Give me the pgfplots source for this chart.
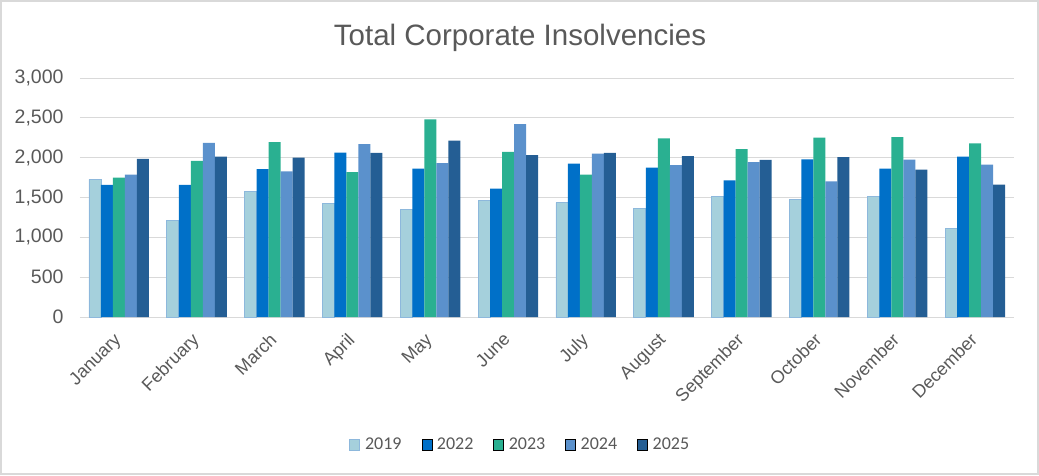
\documentclass[border=0pt]{standalone}
\usepackage{pgfplots}
\pgfplotsset{compat=1.18}
\usepackage{pgfplotstable}
\usepackage{fontspec}
\setmainfont{Liberation Sans}
\newfontfamily\legfont{Carlito}
\definecolor{c19}{HTML}{A5D0DC}
\definecolor{c19b}{HTML}{8DB8DC}
\definecolor{c22}{HTML}{0070C8}
\definecolor{c23}{HTML}{2AB091}
\definecolor{c24}{HTML}{5B91CC}
\definecolor{c25}{HTML}{245E94}
\definecolor{txt}{HTML}{595959}
\definecolor{gridc}{HTML}{D9D9D9}
\pgfplotstableread{
x y
0 1729
1 1213
2 1578
3 1427
4 1351
5 1464
6 1435
7 1368
8 1510
9 1477
10 1510
11 1116
}\tA
\pgfplotstableread{
x y
0 1657
1 1657
2 1855
3 2064
4 1863
5 1611
6 1926
7 1876
8 1716
9 1980
10 1863
11 2014
}\tB
\pgfplotstableread{
x y
0 1750
1 1959
2 2194
3 1817
4 2480
5 2073
6 1787
7 2241
8 2106
9 2253
10 2257
11 2178
}\tC
\pgfplotstableread{
x y
0 1787
1 2186
2 1829
3 2169
4 1930
5 2421
6 2052
7 1905
8 1943
9 1703
10 1976
11 1913
}\tD
\pgfplotstableread{
x y
0 1985
1 2014
2 2001
3 2060
4 2215
5 2031
6 2060
7 2018
8 1972
9 2006
10 1850
11 1662
}\tE
\begin{document}
\begin{tikzpicture}[x=1pt,y=1pt]
\useasboundingbox (0,0) rectangle (1039,475);
\draw[gridc, line width=1.5pt] (1,1) rectangle (1038,474);
\node[txt, font=\fontsize{29.5}{34}\selectfont] at (520,437) {Total Corporate Insolvencies};
\begin{axis}[
  at={(80pt,158pt)}, anchor=south west,
  scale only axis, width=934pt, height=239pt,
  ybar=0pt, bar width=12pt,
  xmin=-0.5, xmax=11.5, ymin=0, ymax=3000,
  ytick={0,500,...,3000},
  xtick={0,...,11},
  xticklabels={January,February,March,April,May,June,July,August,September,October,November,December},
  major tick length=0pt,
  ymajorgrids, grid style={gridc, line width=0.8pt},
  axis x line*=bottom, axis y line*=left,
  x axis line style={gridc, line width=0.8pt, -},
  y axis line style={draw=none},
  /pgf/number format/assume math mode=true,
  /pgf/number format/1000 sep={,},
  yticklabel style={txt, font=\fontsize{19.5}{23}\selectfont, xshift=-13pt},
  xticklabel style={xshift=-6pt, yshift=-10pt, txt, font=\fontsize{18}{21}\selectfont, rotate=45, anchor=north east},
  legend style={at={(0.473,-0.535)}, anchor=center, legend columns=5, draw=none,
    font=\legfont\fontsize{18}{21}\selectfont, text=txt,
    /tikz/every even column/.append style={column sep=15pt},
    nodes={inner xsep=5pt}},
  legend image code/.code={\draw[#1] (0pt,-5.5pt) rectangle (10pt,5.5pt);},
]
\addplot[fill=c19, draw=c19b, line width=0.6pt] table {\tA};
\addplot[fill=c22, draw=none] table {\tB};
\addplot[fill=c23, draw=none] table {\tC};
\addplot[fill=c24, draw=none] table {\tD};
\addplot[fill=c25, draw=none] table {\tE};
\legend{2019,2022,2023,2024,2025}
\end{axis}
\end{tikzpicture}
\end{document}
